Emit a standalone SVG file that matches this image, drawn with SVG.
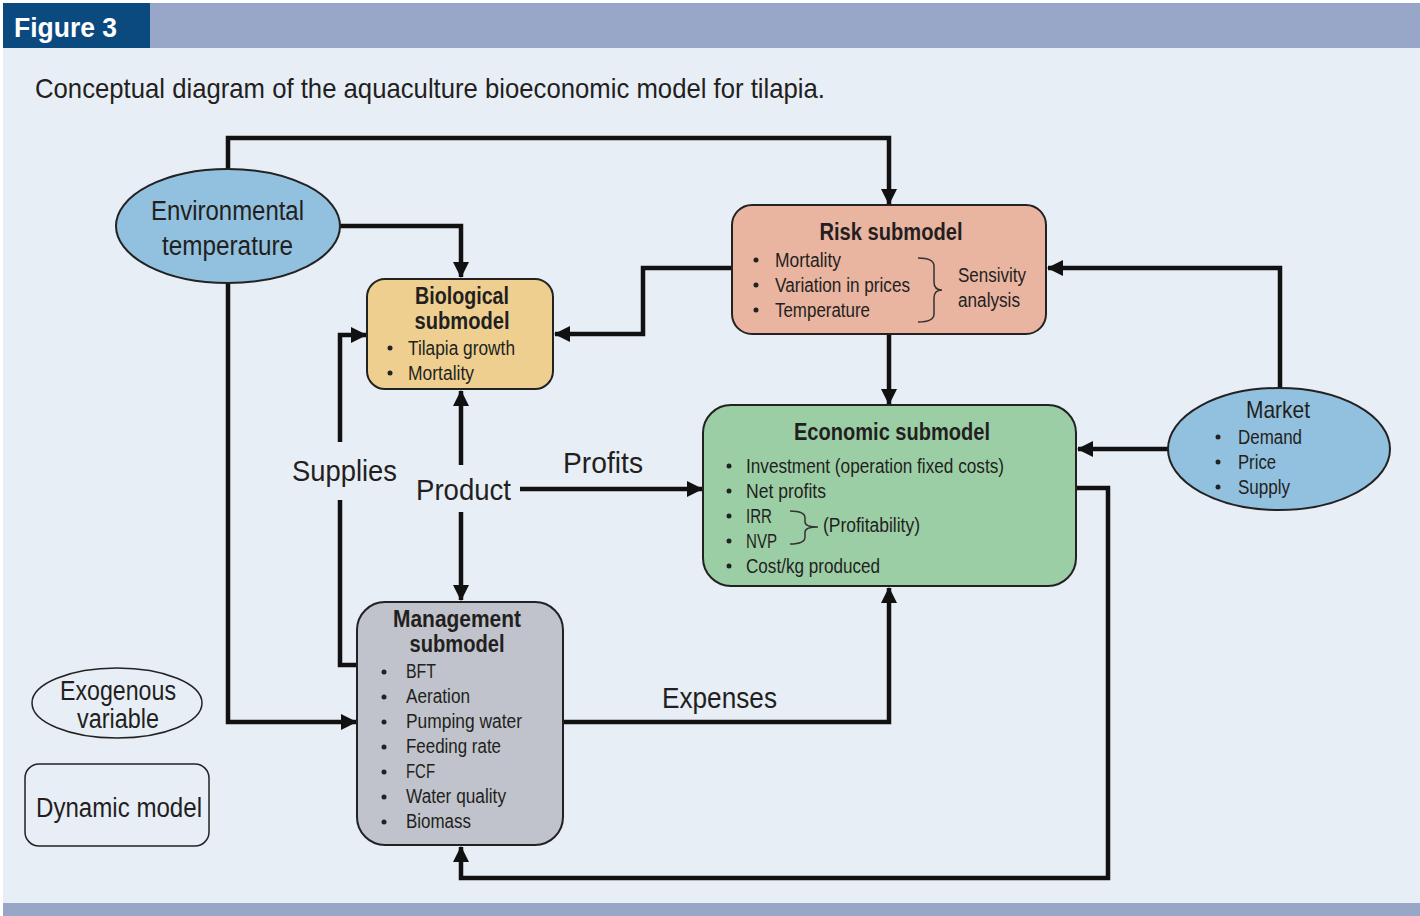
<svg xmlns="http://www.w3.org/2000/svg" width="1420" height="916" viewBox="0 0 1420 916">
<defs>
<marker id="ah" markerUnits="userSpaceOnUse" markerWidth="16" markerHeight="16" viewBox="0 0 16 16" refX="15" refY="8" orient="auto">
<path d="M0,0 L16,8 L0,16 Z" fill="#111"/>
</marker>
<style>
text{font-family:"Liberation Sans",Arial,sans-serif;fill:#231f20}
.t{font-size:20px}
.h{font-size:23px;font-weight:bold;text-anchor:middle}
.lb{font-size:30px}
.big{font-size:27px}
.node{stroke:#222;stroke-width:2}
.c{fill:none;stroke:#111;stroke-width:4.5;stroke-linejoin:miter}
.ca{fill:none;stroke:#111;stroke-width:4.5;marker-end:url(#ah)}
.b{fill:#222}
.br{fill:none;stroke:#333;stroke-width:1.5}
</style>
</defs>
<rect x="0" y="0" width="1420" height="916" fill="#ffffff"/>
<rect x="3" y="3" width="1417" height="900" fill="#e8eef6"/>
<rect x="150" y="3" width="1270" height="45" fill="#98a6c8"/>
<rect x="3" y="3" width="147" height="45" fill="#0b4a7e"/>
<rect x="3" y="903" width="1417" height="13" fill="#98a6c8"/>
<text x="14" y="37" style="font-size:28px;font-weight:bold;fill:#fff" textLength="103" lengthAdjust="spacingAndGlyphs">Figure 3</text>
<text x="35" y="98" style="font-size:28px" textLength="790" lengthAdjust="spacingAndGlyphs">Conceptual diagram of the aquaculture bioeconomic model for tilapia.</text>

<g id="connectors">
<path class="ca" d="M228,168 V138 H889 V204"/>
<path class="ca" d="M340,226 H461 V277"/>
<path class="ca" d="M228,283 V722 H356"/>
<path class="ca" d="M732,268 H643 V334 H555"/>
<path class="ca" d="M889,334 V404"/>
<path class="ca" d="M1280,388 V268 H1048"/>
<path class="ca" d="M1168,449 H1078"/>
<path class="ca" d="M1076,488 H1108 V878 H461 V847"/>
<path class="ca" d="M563,722 H889 V588"/>
<path class="c" d="M357,665 H340 V500"/>
<path class="ca" d="M340,442 V335 H366"/>
<path class="ca" d="M461,465 V391"/>
<path class="ca" d="M461,512 V600"/>
<path class="ca" d="M520,489 H702"/>
<text class="lb" x="292" y="481" textLength="105" lengthAdjust="spacingAndGlyphs">Supplies</text>
<text class="lb" x="416" y="500" textLength="95" lengthAdjust="spacingAndGlyphs">Product</text>
<text class="lb" x="563" y="473" textLength="80" lengthAdjust="spacingAndGlyphs">Profits</text>
<text class="lb" x="662" y="708" textLength="115" lengthAdjust="spacingAndGlyphs">Expenses</text>
</g>

<g id="env">
<ellipse class="node" cx="228" cy="226" rx="112" ry="57" fill="#92c0df"/>
<text class="big" x="151" y="220" textLength="153" lengthAdjust="spacingAndGlyphs">Environmental</text>
<text class="big" x="162" y="255" textLength="131" lengthAdjust="spacingAndGlyphs">temperature</text>
</g>

<g id="bio">
<rect class="node" x="367" y="279" width="186" height="110" rx="18" fill="#eecf90"/>
<text class="h" x="462" y="304" textLength="94" lengthAdjust="spacingAndGlyphs">Biological</text>
<text class="h" x="462" y="329" textLength="95" lengthAdjust="spacingAndGlyphs">submodel</text>
<circle class="b" cx="390" cy="348" r="2.5"/>
<circle class="b" cx="390" cy="373" r="2.5"/>
<text class="t" x="408" y="355" textLength="107" lengthAdjust="spacingAndGlyphs">Tilapia growth</text>
<text class="t" x="408" y="380" textLength="66" lengthAdjust="spacingAndGlyphs">Mortality</text>
</g>

<g id="risk">
<rect class="node" x="732" y="205" width="314" height="129" rx="20" fill="#e9b4a0"/>
<text class="h" x="891" y="240" textLength="143" lengthAdjust="spacingAndGlyphs">Risk submodel</text>
<circle class="b" cx="756" cy="260" r="2.5"/>
<circle class="b" cx="756" cy="285" r="2.5"/>
<circle class="b" cx="756" cy="310" r="2.5"/>
<text class="t" x="775" y="267" textLength="66" lengthAdjust="spacingAndGlyphs">Mortality</text>
<text class="t" x="775" y="292" textLength="135" lengthAdjust="spacingAndGlyphs">Variation in prices</text>
<text class="t" x="775" y="317" textLength="95" lengthAdjust="spacingAndGlyphs">Temperature</text>
<path class="br" d="M918,258 Q934,258 934,266 V282 Q934,290 942,290 Q934,290 934,298 V314 Q934,322 918,322"/>
<text class="t" x="958" y="282" textLength="68" lengthAdjust="spacingAndGlyphs">Sensivity</text>
<text class="t" x="958" y="307" textLength="62" lengthAdjust="spacingAndGlyphs">analysis</text>
</g>

<g id="economic">
<rect class="node" x="703" y="405" width="373" height="181" rx="28" fill="#9ccea6"/>
<text class="h" x="892" y="440" textLength="196" lengthAdjust="spacingAndGlyphs">Economic submodel</text>
<circle class="b" cx="729" cy="466" r="2.5"/>
<circle class="b" cx="729" cy="491" r="2.5"/>
<circle class="b" cx="729" cy="516" r="2.5"/>
<circle class="b" cx="729" cy="541" r="2.5"/>
<circle class="b" cx="729" cy="566" r="2.5"/>
<text class="t" x="746" y="473" textLength="258" lengthAdjust="spacingAndGlyphs">Investment (operation fixed costs)</text>
<text class="t" x="746" y="498" textLength="80" lengthAdjust="spacingAndGlyphs">Net profits</text>
<text class="t" x="746" y="523" textLength="26" lengthAdjust="spacingAndGlyphs">IRR</text>
<text class="t" x="746" y="548" textLength="31" lengthAdjust="spacingAndGlyphs">NVP</text>
<text class="t" x="746" y="573" textLength="134" lengthAdjust="spacingAndGlyphs">Cost/kg produced</text>
<path class="br" d="M790,511 Q805,511 805,518 V522 Q805,527 818,527 Q805,527 805,532 V537 Q805,544 790,544"/>
<text class="t" x="823" y="532" textLength="97" lengthAdjust="spacingAndGlyphs">(Profitability)</text>
</g>

<g id="market">
<ellipse class="node" cx="1279" cy="449" rx="111" ry="61" fill="#92c0df"/>
<text class="big" x="1278" y="418" text-anchor="middle" style="font-size:24px" textLength="64" lengthAdjust="spacingAndGlyphs">Market</text>
<circle class="b" cx="1218" cy="437" r="2.5"/>
<circle class="b" cx="1218" cy="462" r="2.5"/>
<circle class="b" cx="1218" cy="487" r="2.5"/>
<text class="t" x="1238" y="444" textLength="64" lengthAdjust="spacingAndGlyphs">Demand</text>
<text class="t" x="1238" y="469" textLength="38" lengthAdjust="spacingAndGlyphs">Price</text>
<text class="t" x="1238" y="494" textLength="52" lengthAdjust="spacingAndGlyphs">Supply</text>
</g>

<g id="management">
<rect class="node" x="357" y="602" width="206" height="243" rx="28" fill="#c0c3cb"/>
<text class="h" x="457" y="627" textLength="128" lengthAdjust="spacingAndGlyphs">Management</text>
<text class="h" x="457" y="652" textLength="95" lengthAdjust="spacingAndGlyphs">submodel</text>
<circle class="b" cx="384" cy="672" r="2.5"/>
<circle class="b" cx="384" cy="697" r="2.5"/>
<circle class="b" cx="384" cy="722" r="2.5"/>
<circle class="b" cx="384" cy="747" r="2.5"/>
<circle class="b" cx="384" cy="772" r="2.5"/>
<circle class="b" cx="384" cy="797" r="2.5"/>
<circle class="b" cx="384" cy="822" r="2.5"/>
<text class="t" x="406" y="678" textLength="30" lengthAdjust="spacingAndGlyphs">BFT</text>
<text class="t" x="406" y="703" textLength="64" lengthAdjust="spacingAndGlyphs">Aeration</text>
<text class="t" x="406" y="728" textLength="116" lengthAdjust="spacingAndGlyphs">Pumping water</text>
<text class="t" x="406" y="753" textLength="95" lengthAdjust="spacingAndGlyphs">Feeding rate</text>
<text class="t" x="406" y="778" textLength="29" lengthAdjust="spacingAndGlyphs">FCF</text>
<text class="t" x="406" y="803" textLength="100" lengthAdjust="spacingAndGlyphs">Water quality</text>
<text class="t" x="406" y="828" textLength="65" lengthAdjust="spacingAndGlyphs">Biomass</text>
</g>

<g id="legend-exogenous">
<ellipse cx="117" cy="703" rx="85" ry="35" fill="none" stroke="#222" stroke-width="1.5"/>
<text class="big" x="60" y="700" textLength="116" lengthAdjust="spacingAndGlyphs">Exogenous</text>
<text class="big" x="77" y="728" textLength="82" lengthAdjust="spacingAndGlyphs">variable</text>
</g>
<g id="legend-dynamic">
<rect x="25" y="764" width="184" height="82" rx="14" fill="none" stroke="#222" stroke-width="1.5"/>
<text class="big" x="36" y="817" textLength="166" lengthAdjust="spacingAndGlyphs">Dynamic model</text>
</g>
</svg>
